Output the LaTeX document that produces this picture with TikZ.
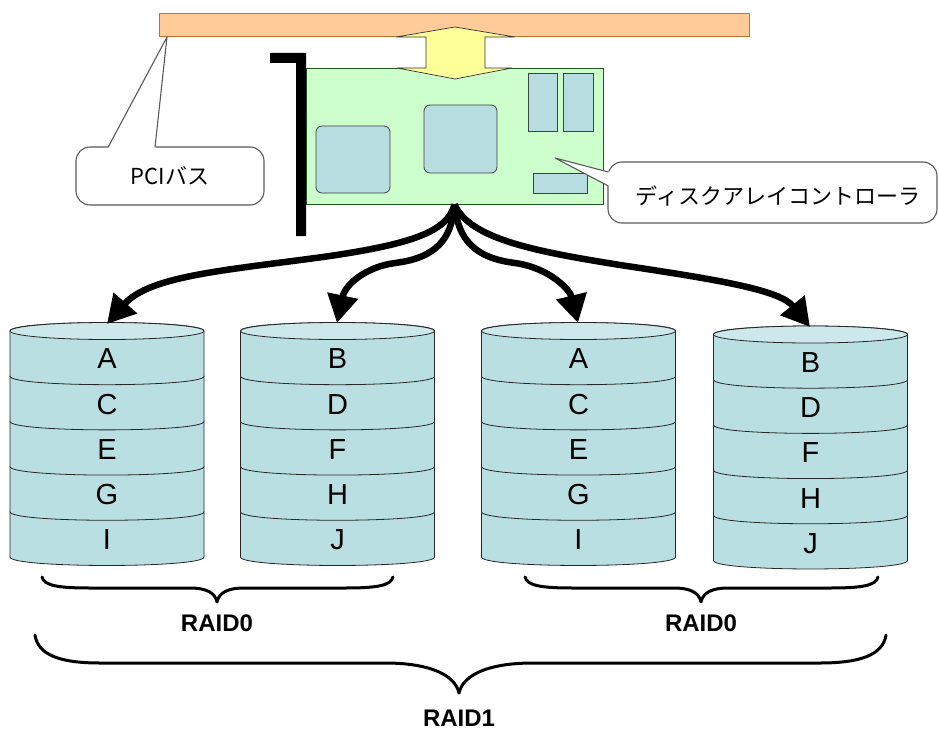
\documentclass[tikz,border=0pt]{standalone}
\usepackage{fontspec}
\setmainfont{Liberation Sans}
\newfontfamily\jpfont{Noto Sans CJK JP}
\usetikzlibrary{arrows.meta}
\definecolor{busfill}{HTML}{FFCC99}
\definecolor{busline}{HTML}{C8702A}
\definecolor{cardfill}{HTML}{CCFFCC}
\definecolor{cardline}{HTML}{1E5A1E}
\definecolor{chipfill}{HTML}{B7DDE0}
\definecolor{diskfill}{HTML}{B9DFE3}
\definecolor{disktop}{HTML}{CCE8EB}
\definecolor{arrowfill}{HTML}{FFFF99}
\definecolor{calline}{HTML}{5A5A5A}
\newcommand\diskstack[2]{%
  \foreach \i in {4,3,2,1,0} {
    \pgfmathsetmacro\ys{#2+45.2*\i}
    \pgfmathsetmacro\yb{\ys+45.2}
    \filldraw[disk] (#1-97,\ys) -- (#1-97,\yb) .. controls (#1-97,\yb+11.3) and (#1+97,\yb+11.3) .. (#1+97,\yb) -- (#1+97,\ys) .. controls (#1+97,\ys-11.3) and (#1-97,\ys-11.3) .. (#1-97,\ys) -- cycle;
  }
  \filldraw[disk, fill=disktop] (#1,#2) ellipse [x radius=97, y radius=8.5];
}
\begin{document}
\begin{tikzpicture}[x=1pt,y=-1pt,
  bus/.style={draw=busline, fill=busfill, line width=0.9pt, minimum width=590pt, minimum height=23pt, inner sep=0pt},
  cardbox/.style={draw=cardline, fill=cardfill, line width=0.9pt, inner sep=0pt},
  chip/.style={draw=black!75, fill=chipfill, line width=0.8pt, inner sep=0pt},
  disk/.style={draw=black!85, fill=diskfill, line width=0.8pt},
  letter/.style={inner sep=0pt, anchor=center, font=\fontsize{29}{29}\selectfont},
  callbox/.style={draw=calline, fill=white, line width=1.1pt, rounded corners=14pt, inner sep=0pt, font=\jpfont\fontsize{22}{22}\selectfont},
  callptr/.style={draw=calline, line width=1.1pt, line join=round},
  cable/.style={line width=6.5pt, -{Triangle[length=28pt,width=30pt]}},
  brace/.style={line width=3pt, line cap=round, line join=round},
  raid/.style={inner sep=0pt, font=\bfseries\fontsize{24}{24}\selectfont}
]
\fill[white] (0,0) rectangle (939,733);
\useasboundingbox (0,0) rectangle (939,733);

% PCI bus bar
\node[bus] (bus) at (454,24.5) {};

% controller card
\node[cardbox, minimum width=297pt, minimum height=136pt] (card) at (454.5,136) {};
\node[chip, rounded corners=6pt, minimum width=74pt, minimum height=67pt] (chipL) at (353,159.5) {};
\node[chip, rounded corners=6pt, minimum width=73pt, minimum height=68pt] (chipM) at (460.5,139) {};
\node[chip, minimum width=29pt, minimum height=58pt] (chipR1) at (542.5,102) {};
\node[chip, minimum width=30pt, minimum height=58pt] (chipR2) at (578,102) {};
\node[chip, minimum width=54pt, minimum height=20pt] (chipS) at (560,183) {};

% bracket
\fill[black] (270,53) -- (306,53) -- (306,236) -- (296,236) -- (296,63) -- (270,63) -- cycle;

% yellow double arrow
\filldraw[fill=arrowfill, draw=black!80, line width=0.7pt, line join=miter]
  (455,27) -- (515,37) -- (485,37) -- (485,68) -- (512,68) -- (455,79) -- (397,68) -- (426,68) -- (426,37) -- (396,37) -- cycle;

% PCI callout
\node[callbox, minimum width=188pt, minimum height=58pt] (pci) at (170,176) {PCIバス};
\coordinate (pcitip) at (167,37);
\fill[white] (107.5,148.2) -- (pcitip) -- (155.5,148.2) -- cycle;
\draw[callptr] (108,147.4) -- (pcitip) -- (155,147.4);

% controller callout
\node[callbox, minimum width=329pt, minimum height=61pt] (ctl) at (772.5,192.5) {};
\node[inner sep=0pt, font=\jpfont\fontsize{22}{22}\selectfont] (ctltext) at (778,196) {ディスクアレイコントローラ};
\coordinate (ctltip) at (555,158);
\fill[white] (609.2,171.5) -- (ctltip) -- (609.2,186.5) -- cycle;
\draw[callptr] (608.4,172) -- (ctltip) -- (608.4,186);

% disks
\diskstack{107}{331}
\diskstack{337.5}{331}
\diskstack{578.5}{331}
\diskstack{810.5}{334.5}

\foreach \L [count=\k from 0] in {A,C,E,G,I} \node[letter] (da\L) at (107,331+45.2*\k+28) {\L};
\foreach \L [count=\k from 0] in {B,D,F,H,J} \node[letter] (db\L) at (337.5,331+45.2*\k+28) {\L};
\foreach \L [count=\k from 0] in {A,C,E,G,I} \node[letter] (dc\L) at (578.5,331+45.2*\k+28) {\L};
\foreach \L [count=\k from 0] in {B,D,F,H,J} \node[letter] (dd\L) at (810.5,334.5+45.2*\k+28) {\L};

% cables
\coordinate (t1) at (107,324);
\coordinate (t2) at (337,323);
\coordinate (t3) at (578,323);
\coordinate (t4) at (810,327);
\draw[cable] (card.south) .. controls (448,232) and (410,244) .. (330,256) .. controls (230,270) and (150,275) .. (t1);
\draw[cable] (card.south) .. controls (452,240) and (435,258) .. (395,263) .. controls (365,267) and (345,285) .. (t2);
\draw[cable] (card.south) .. controls (458,240) and (475,258) .. (515,263) .. controls (550,268) and (570,290) .. (t3);
\draw[cable] (card.south) .. controls (470,240) and (540,252) .. (620,265) .. controls (720,280) and (780,290) .. (t4);

% braces
\draw[brace] (42,577) .. controls (44,586) and (60,588) .. (90,588) -- (190,588) .. controls (205,588) and (215,592) .. (217,602) .. controls (219,592) and (229,588) .. (244,588) -- (345,588) .. controls (375,588) and (391,586) .. (393,577);
\draw[brace] (525,577) .. controls (527,586) and (543,588) .. (573,588) -- (674,588) .. controls (689,588) and (699,592) .. (701,602) .. controls (703,592) and (713,588) .. (728,588) -- (830,588) .. controls (860,588) and (876,586) .. (878,577);
\draw[brace] (35,635) .. controls (38,655) and (60,663) .. (100,663) -- (385,663) .. controls (430,663) and (455,675) .. (459,693) .. controls (463,675) and (488,663) .. (533,663) -- (820,663) .. controls (860,663) and (883,655) .. (886,635);

\node[raid] (r0a) at (217,623) {RAID0};
\node[raid] (r0b) at (701,623) {RAID0};
\node[raid] (r1) at (459,718) {RAID1};
\end{tikzpicture}
\end{document}
